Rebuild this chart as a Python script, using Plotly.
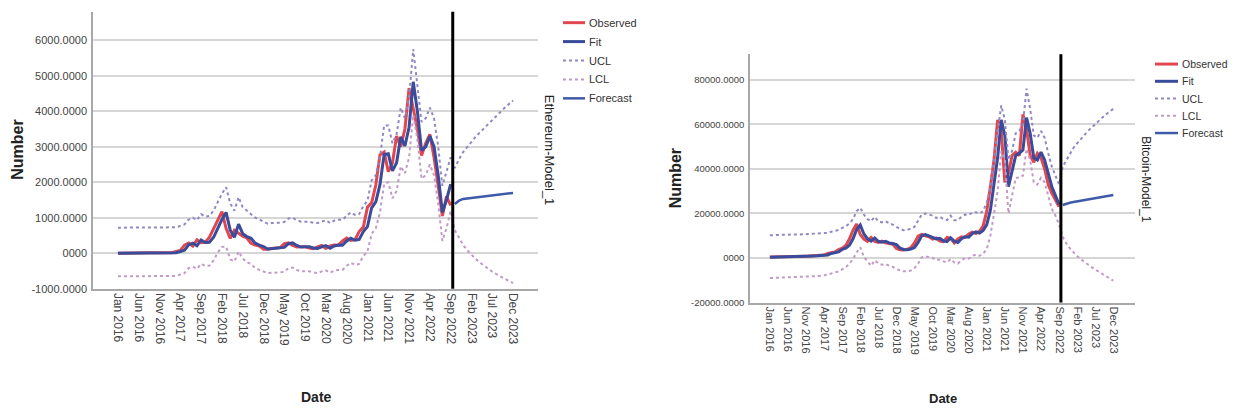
import pandas as pd
import plotly.graph_objects as go

# ---------------- data ----------------
MONTHS = list(pd.date_range("2016-01-01", periods=96, freq="MS").strftime("%b %Y"))
TICK_MONTHS = ["Jan 2016", "Jun 2016", "Nov 2016", "Apr 2017", "Sep 2017", "Feb 2018",
               "Jul 2018", "Dec 2018", "May 2019", "Oct 2019", "Mar 2020", "Aug 2020",
               "Jan 2021", "Jun 2021", "Nov 2021", "Apr 2022", "Sep 2022", "Feb 2023",
               "Jul 2023", "Dec 2023"]
SERIES_NAMES = ["Observed", "Fit", "UCL", "LCL", "Forecast"]
HIST_END = 81          # number of observed / fitted months (Jan 2016 .. Sep 2022)
FORECAST_START = 81    # index of first forecast month (Oct 2022)

ETH_OBS = [2, 6, 11, 9, 14, 12, 12, 12, 13, 11, 9, 8,
           11, 16, 50, 80, 230, 290, 200, 380, 300, 310, 450, 700,
           950, 1170, 700, 420, 650, 560, 480, 430, 280, 230, 200, 115,
           110, 135, 140, 160, 270, 290, 220, 175, 180, 180, 150, 130,
           180, 220, 135, 205, 230, 225, 345, 430, 360, 385, 610, 740,
           1300, 1420, 1920, 2770, 2850, 2300, 2540, 3300, 3000, 3500, 4650, 4100,
           3500, 2750, 3100, 3350, 2700, 1900, 1050, 1600, 1350]
ETH_FIT = [3, 3, 6, 11, 9, 14, 12, 12, 12, 13, 11, 9,
           8, 11, 16, 50, 85, 235, 285, 210, 375, 305, 310, 450,
           720, 950, 1150, 650, 450, 820, 550, 470, 420, 285, 230, 190,
           120, 130, 135, 145, 165, 270, 290, 220, 175, 180, 180, 150,
           135, 180, 215, 140, 205, 230, 225, 345, 425, 365, 390, 610,
           750, 1280, 1450, 1930, 2780, 2800, 2320, 2550, 3280, 3020, 3550, 4830,
           4000, 2900, 3000, 3300, 3000, 2200, 1150, 1500, 1950]
ETH_UCL = [720, 720, 720, 720, 720, 720, 720, 720, 720, 720, 720, 720,
           720, 720, 730, 770, 810, 950, 1000, 930, 1100, 1030, 1050, 1200,
           1450, 1680, 1860, 1400, 1200, 1580, 1300, 1200, 1120, 1000, 950, 900,
           830, 850, 850, 860, 880, 980, 1000, 930, 890, 890, 890, 860,
           850, 890, 930, 850, 920, 940, 940, 1060, 1150, 1080, 1100, 1330,
           1480, 2050, 2200, 2700, 3600, 3600, 3100, 3350, 4100, 3800, 4400, 5750,
           4800, 3700, 3800, 4100, 3800, 3000, 1900, 2300, 2700,
           2400, 2650, 2850, 3000, 3150, 3280, 3400, 3520, 3640, 3760, 3880, 3990, 4100, 4200, 4300]
ETH_LCL = [-650, -650, -650, -650, -650, -650, -650, -650, -650, -650, -650, -650,
           -650, -650, -640, -600, -560, -420, -380, -440, -300, -360, -350, -200,
           20, 180, 190, -170, -230, 50, -150, -250, -300, -420, -470, -500,
           -560, -550, -550, -540, -520, -420, -400, -470, -510, -510, -510, -540,
           -560, -510, -480, -550, -490, -470, -470, -350, -270, -330, -300, -80,
           50, 550, 700, 1150, 1950, 2000, 1550, 1750, 2450, 2250, 2700, 3900,
           3200, 2100, 2200, 2500, 2200, 1400, 350, 700, 1200,
           650, 420, 230, 80, -50, -160, -260, -350, -440, -520, -590, -660, -720, -780, -840]
ETH_FORECAST = [1390, 1480, 1530, 1545, 1560, 1575, 1590, 1605, 1620, 1635, 1650, 1665, 1680, 1690, 1700]

BTC_OBS = [400, 420, 420, 440, 520, 650, 640, 580, 600, 680, 730, 920,
           960, 1150, 1100, 1300, 2000, 2500, 2700, 3800, 4400, 5600, 8500, 12500,
           15300, 10500, 8500, 7500, 9200, 7400, 7000, 7600, 6800, 6500, 6200, 4300,
           3700, 3600, 3900, 4600, 6800, 9800, 10600, 10000, 9500, 8500, 9000, 7600,
           7300, 9200, 8800, 6800, 8600, 9500, 9200, 10800, 11600, 11000, 12000, 14500,
           21000, 32000, 44000, 62000, 57000, 34000, 38000, 46000, 47500, 46000, 64500, 58000,
           46000, 43000, 47000, 45000, 40000, 33000, 29000, 26000, 23000]
BTC_FIT = [380, 400, 420, 420, 450, 530, 650, 630, 590, 610, 690, 740,
           930, 980, 1150, 1120, 1350, 2050, 2500, 2750, 3850, 4450, 5700, 8600,
           12800, 14800, 10800, 8700, 7600, 9000, 7500, 7100, 7500, 6800, 6500, 6000,
           4400, 3800, 3700, 4000, 4700, 7000, 10000, 10500, 9900, 9400, 8600, 8800,
           7700, 7400, 9100, 7600, 7000, 8700, 9500, 9300, 11000, 11700, 11200, 12400,
           15000, 21500, 33000, 45000, 62000, 55000, 32000, 39000, 46000, 47000, 48500, 63000,
           56000, 45000, 44000, 47500, 44000, 38000, 32000, 28000, 24000]
BTC_UCL = [10200, 10300, 10300, 10400, 10400, 10500, 10600, 10600, 10500, 10600, 10600, 10700,
           10800, 10900, 11000, 11100, 11300, 11800, 12300, 12600, 13500, 14200, 15500, 17500,
           21000, 22500, 19500, 17500, 16500, 18500, 16500, 16000, 16500, 15500, 15000, 14000,
           13000, 12500, 12600, 13000, 14000, 16500, 19500, 20000, 19500, 19000, 18000, 18500,
           17500, 17000, 19000, 17000, 17000, 18500, 19500, 19300, 20500, 20500, 20000, 21000,
           25000, 32000, 45000, 56000, 68500, 62000, 44000, 48000, 56000, 57000, 60000, 76000,
           67000, 55000, 54000, 57000, 54000, 47000, 41000, 37000, 33000,
           41000, 44000, 47000, 49500, 51500, 53500, 55300, 57000, 58600, 60200, 61700, 63100, 64500, 65800, 67000]
BTC_LCL = [-9000, -9000, -8900, -8900, -8800, -8700, -8600, -8600, -8600, -8500, -8400, -8300,
           -8200, -8100, -8000, -7800, -7400, -6800, -6500, -6000, -5000, -4200, -2500, -500,
           2500, 4800, 500, -1500, -3500, -1000, -2500, -3000, -2700, -3500, -4000, -5000,
           -5500, -6000, -6000, -5600, -4500, -2500, 300, 800, 400, 0, -1000, -700,
           -1500, -2000, -500, -2000, -2500, -1000, 0, -300, 1000, 1500, 1000, 2000,
           4000, 10000, 20000, 30000, 48000, 44000, 20000, 28000, 36000, 36000, 37000, 49000,
           44000, 34000, 33000, 36000, 34000, 28000, 22000, 19000, 15000,
           9500, 6500, 4300, 2500, 900, -500, -1800, -3000, -4100, -5200, -6200, -7200, -8100, -9000, -10200]
BTC_FORECAST = [23800, 24400, 24800, 25100, 25400, 25700, 26000, 26300, 26600, 26900, 27200, 27400, 27700, 28000, 28250]

ETH_YTICKS = [-1000, 0, 1000, 2000, 3000, 4000, 5000, 6000]
ETH_YLABELS = ["-1000.0000", "0000", "1000.0000", "2000.0000", "3000.0000", "4000.0000", "5000.0000", "6000.0000"]
BTC_YTICKS = [-20000, 0, 20000, 40000, 60000, 80000]
BTC_YLABELS = ["-20000.0000", "0000", "20000.0000", "40000.0000", "60000.0000", "80000.0000"]

# ---------------- layout helpers ----------------
W, H = 1233, 413
FONT = "Liberation Sans, Arial, sans-serif"
def px(x):
    return x / W
def py(y):
    return 1 - y / H

STYLES = {
    "Observed": dict(color="#e0474f", width=3),
    "Fit": dict(color="#3b4b9b", width=3),
    "UCL": dict(color="#9088c4", width=2, dash="dot"),
    "LCL": dict(color="#c29ac6", width=2, dash="dot"),
    "Forecast": dict(color="#3e5aa8", width=2.5),
}

fig = go.Figure()

def add_model(obs, fit, ucl, lcl, fc, xa, ya):
    hist_x = MONTHS[:HIST_END]
    series = {
        "Observed": (hist_x, obs),
        "Fit": (hist_x, fit),
        "UCL": (MONTHS, ucl),
        "LCL": (MONTHS, lcl),
        "Forecast": (MONTHS[FORECAST_START:], fc),
    }
    for name in SERIES_NAMES:
        xs, ys = series[name]
        fig.add_trace(go.Scatter(x=xs, y=ys, name=name, mode="lines", showlegend=False,
                                 line=STYLES[name], xaxis=xa, yaxis=ya))

add_model(ETH_OBS, ETH_FIT, ETH_UCL, ETH_LCL, ETH_FORECAST, "x", "y")
add_model(BTC_OBS, BTC_FIT, BTC_UCL, BTC_LCL, BTC_FORECAST, "x2", "y2")

axis_common = dict(showline=True, linecolor="#a8a8a8", linewidth=1.5, ticks="",
                   zeroline=False, mirror=False)

fig.update_layout(
    width=W, height=H, autosize=False,
    margin=dict(l=0, r=0, t=0, b=0, pad=0),
    paper_bgcolor="white", plot_bgcolor="white",
    font=dict(family=FONT, color="#444"),
    showlegend=False,
    xaxis=dict(domain=[px(93), px(538)], anchor="y", type="category",
               categoryorder="array", categoryarray=MONTHS,
               range=[-6, 101], tickmode="array", tickvals=TICK_MONTHS,
               tickangle=90, tickfont=dict(size=12, color="#444"),
               showgrid=False, **axis_common),
    yaxis=dict(domain=[py(293), py(12)], anchor="x", range=[-1000, 6800],
               tickmode="array", tickvals=ETH_YTICKS, ticktext=ETH_YLABELS,
               tickfont=dict(size=11, color="#444"), showgrid=True,
               gridcolor="#d6d6d6", gridwidth=1.5, ticklabelstandoff=2, **axis_common),
    xaxis2=dict(domain=[px(750), px(1135)], anchor="y2", type="category",
                categoryorder="array", categoryarray=MONTHS,
                range=[-5.5, 101], tickmode="array", tickvals=TICK_MONTHS,
                tickangle=90, tickfont=dict(size=11, color="#444"),
                showgrid=False, **axis_common),
    yaxis2=dict(domain=[py(307), py(55)], anchor="x2", range=[-20000, 91500],
                tickmode="array", tickvals=BTC_YTICKS, ticktext=BTC_YLABELS,
                tickfont=dict(size=9.5, color="#444"), showgrid=True,
                gridcolor="#d6d6d6", gridwidth=1.5, ticklabelstandoff=2, **axis_common),
)

# forecast reference lines
for xa, ya in (("x", "y"), ("x2", "y2")):
    fig.add_shape(type="line", xref=xa, yref=f"{ya} domain", x0=80.5, x1=80.5, y0=0, y1=1,
                  line=dict(color="black", width=3))

# legends (key samples + labels) for each chart
def add_legend(x_sample0, x_sample1, y_first, row_gap, size):
    for k, name in enumerate(SERIES_NAMES):
        yy = py(y_first + k * row_gap)
        st = dict(STYLES[name])
        if "dash" in st:
            st["width"] = 2
        fig.add_shape(type="line", xref="paper", yref="paper",
                      x0=px(x_sample0), x1=px(x_sample1), y0=yy, y1=yy, line=st)
        fig.add_annotation(text=name, x=px(x_sample1 + 2), y=yy, xref="paper", yref="paper",
                           xanchor="left", yanchor="middle", showarrow=False,
                           font=dict(size=size, color="#333", family=FONT))

add_legend(563, 585, 23, 19.2, 11)
add_legend(1155, 1178, 65, 17.5, 10.5)

# axis titles and model labels
ann = [
    dict(text="<b>Number</b>", x=px(18), y=py(152), textangle=-90, size=16),
    dict(text="<b>Date</b>", x=px(316), y=py(403), textangle=0, size=14),
    dict(text="Ethereum-Model_1", x=px(549), y=py(152), textangle=90, size=13),
    dict(text="<b>Number</b>", x=px(675), y=py(181), textangle=-90, size=16),
    dict(text="<b>Date</b>", x=px(943), y=py(404), textangle=0, size=13),
    dict(text="Bitcoin-Model_1", x=px(1146), y=py(182), textangle=90, size=12),
]
for a in ann:
    fig.add_annotation(text=a["text"], x=a["x"], y=a["y"], xref="paper", yref="paper",
                       xanchor="center", yanchor="middle", showarrow=False,
                       textangle=a["textangle"], font=dict(size=a["size"], color="#222", family=FONT))

fig.write_html("out.html")
